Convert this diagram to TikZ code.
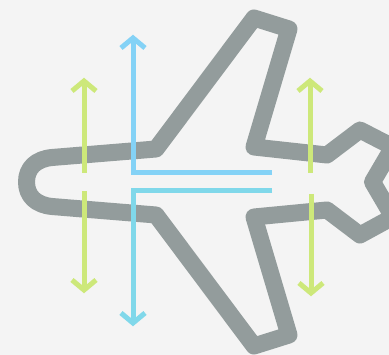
\documentclass[tikz,border=0pt]{standalone}
\usetikzlibrary{calc}
\definecolor{planeGray}{HTML}{939C9C}
\definecolor{planeBack}{HTML}{F4F4F4}
\definecolor{liftGreen}{HTML}{CDE87A}
\definecolor{flowBlue}{HTML}{84D2F6}
\definecolor{flowTeal}{HTML}{80D8EA}
\begin{document}
\begin{tikzpicture}[x=1pt,y=-1pt,
  hull/.style={draw=planeGray, line width=17pt, line join=round},
  liftArr/.style={draw=liftGreen, line width=5pt},
  upArr/.style={draw=flowBlue, line width=5pt},
  downArr/.style={draw=flowTeal, line width=5pt}
]
\useasboundingbox[fill=planeBack] (0,0) rectangle (389,355);
% outline
\draw[hull] (156,149) -- (254,18) -- (289,29) -- (254,147) -- (327,155) -- (360,130) -- (393,147)
  -- (372.5,182) -- (393,217) -- (360,235) -- (327,210) -- (254,217) -- (289,335) -- (254,346)
  -- (156,215) -- (52,206.5) .. controls (36,205) and (26.5,196) .. (26.5,182)
  .. controls (26.5,168) and (36,159) .. (52,157.5) -- cycle;
% flow lines
\coordinate (upStart) at (272,172.5);
\coordinate (upTip) at (133,38);
\coordinate (downStart) at (272,191);
\coordinate (downTip) at (133,323);
\draw[upArr] (upStart) -| (upTip);
\draw[upArr, line join=miter] (121,48) -- (upTip) -- (145,48);
\draw[downArr] (downStart) -| (downTip);
\draw[downArr, line join=miter] (121,313) -- (downTip) -- (145,313);
% lift arrows
\foreach \name/\xa/\ya/\yb/\yc in {la/84/173/81/91, ra/310/173/81/91, lb/84/191/290/280, rb/311/194/293/283}{
  \coordinate (\name s) at (\xa,\ya);
  \coordinate (\name t) at (\xa,\yb);
  \draw[liftArr] (\name s) -- (\name t);
  \draw[liftArr, line join=miter] (\xa-12,\yc) -- (\name t) -- (\xa+12,\yc);
}
\end{tikzpicture}
\end{document}
